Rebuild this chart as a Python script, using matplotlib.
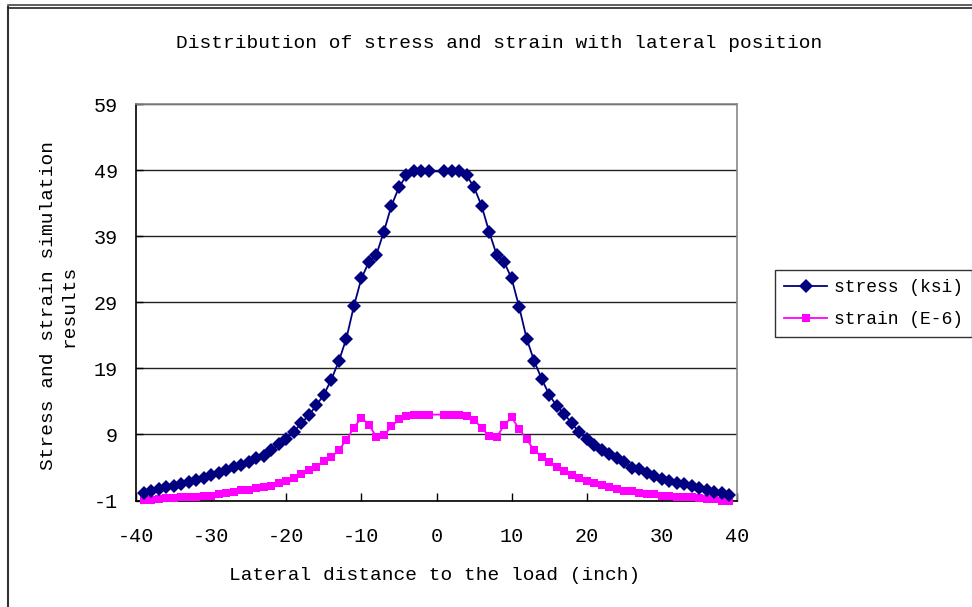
import matplotlib
matplotlib.use("Agg")
import matplotlib.pyplot as plt
from matplotlib.lines import Line2D

# Lateral positions (inch)
x_left = list(range(-39, 0))
x_right = list(range(1, 40))

stress_left = [0.18, 0.44, 0.75, 1.0, 1.2, 1.5, 1.8, 2.1, 2.35, 2.8,
               3.1, 3.6, 4.0, 4.4, 4.9, 5.4, 5.8, 6.6, 7.5, 8.3,
               9.4, 10.7, 11.9, 13.4, 15.0, 17.3, 20.1, 23.5, 28.4, 32.6,
               35.1, 36.2, 39.7, 43.6, 46.4, 48.2, 48.8, 48.8, 48.8]
stress_right = [48.8, 48.8, 48.8, 48.2, 46.4, 43.6, 39.7, 36.2, 35.1, 32.6,
                28.3, 23.5, 20.1, 17.4, 15.0, 13.3, 12.1, 10.7, 9.3, 8.3,
                7.4, 6.7, 6.0, 5.4, 4.8, 3.9, 3.8, 3.2, 2.7, 2.2,
                1.95, 1.7, 1.45, 1.2, 0.9, 0.6, 0.33, 0.09, -0.16]

strain_left = [-0.92, -0.92, -0.77, -0.67, -0.67, -0.52, -0.42, -0.42, -0.27, -0.27,
               -0.02, 0.09, 0.33, 0.59, 0.59, 0.84, 1.1, 1.25, 1.6, 1.95,
               2.45, 2.95, 3.6, 4.1, 5.0, 5.6, 6.6, 8.2, 10.0, 11.5,
               10.5, 8.6, 8.85, 10.2, 11.3, 11.85, 12.0, 12.0, 12.0]
strain_right = [12.0, 12.0, 12.0, 11.8, 11.2, 10.0, 8.8, 8.55, 10.4, 11.6,
                9.8, 8.25, 6.6, 5.6, 4.9, 4.0, 3.5, 2.9, 2.45, 1.95,
                1.6, 1.35, 1.0, 0.7, 0.5, 0.5, 0.2, 0.03, -0.02, -0.27,
                -0.27, -0.52, -0.52, -0.4, -0.62, -0.72, -0.72, -1.1, -1.1]

x_ticks = [-40, -30, -20, -10, 0, 10, 20, 30, 40]
y_ticks = [-1, 9, 19, 29, 39, 49, 59]

title = "Distribution of stress and strain with lateral position"
x_label = "Lateral distance to the load (inch)"
y_label = "Stress and strain simulation\nresults"
labels = ["stress (ksi)", "strain (E-6)"]

STRESS_C = "#000080"
STRAIN_C = "#FF00FF"
FONT = ["Liberation Mono", "DejaVu Sans Mono"]
FS = 14.0
TICK_FS = 14.5
LEG_FS = 13.0

plt.rcParams["font.family"] = FONT

W, H = 972, 607
fig = plt.figure(figsize=(W / 100, H / 100), dpi=100)

# chart-area border (left and doubled top edge)
fig.add_artist(Line2D([8 / W, 8 / W], [0, 1 - 7 / H], color="#333333", lw=1.5,
                      transform=fig.transFigure))
fig.add_artist(Line2D([8 / W, 1], [1 - 5 / H, 1 - 5 / H], color="#444444", lw=1.2,
                      transform=fig.transFigure))
fig.add_artist(Line2D([8 / W, 1], [1 - 8 / H, 1 - 8 / H], color="#222222", lw=1.2,
                      transform=fig.transFigure))

left, right, top, bottom = 136, 737, 104, 500.5
ax = fig.add_axes([left / W, 1 - bottom / H, (right - left) / W, (bottom - top) / H])

xs = x_left + x_right
ax.plot(xs, stress_left + stress_right, color=STRESS_C, lw=1.3, marker="D",
        markersize=7.5, markeredgewidth=0, zorder=4, clip_on=False)
ax.plot(xs, strain_left + strain_right, color=STRAIN_C, lw=1.3, marker="s",
        markersize=5.8, markeredgewidth=0, zorder=3, clip_on=False)

ax.set_xlim(-40, 40)
ax.set_ylim(-1, 59)
ax.set_xticks(x_ticks)
ax.set_yticks(y_ticks)
ax.set_xticklabels([str(v) for v in x_ticks])
ax.set_yticklabels([str(v) for v in y_ticks])
ax.tick_params(axis="x", direction="in", length=6, width=1, pad=19, labelsize=TICK_FS)
ax.tick_params(axis="y", direction="in", length=5, width=1, pad=13, labelsize=TICK_FS)
ax.yaxis.grid(True, color="#222222", lw=1)
ax.set_axisbelow(True)

for s in ("left", "bottom"):
    ax.spines[s].set_color("black")
    ax.spines[s].set_linewidth(1.2)
for s in ("top", "right"):
    ax.spines[s].set_color("#888888")
    ax.spines[s].set_linewidth(1.2)

fig.text(499 / W, 1 - 43 / H, title, ha="center", va="center", fontsize=FS)
fig.text(435 / W, 1 - 575 / H, x_label, ha="center", va="center", fontsize=FS)
fig.text(59 / W, 1 - 306 / H, y_label, ha="center", va="center", rotation=90,
         multialignment="center", fontsize=FS, linespacing=1.25)

handles = [Line2D([], [], color=STRESS_C, lw=1.3, marker="D", markersize=7.5,
                  markeredgewidth=0),
           Line2D([], [], color=STRAIN_C, lw=1.3, marker="s", markersize=5.8,
                  markeredgewidth=0)]
leg = fig.legend(handles, labels, loc="upper left",
                 bbox_to_anchor=(775 / W, 1 - 270 / H), fontsize=LEG_FS,
                 frameon=True, fancybox=False, edgecolor="black",
                 handlelength=2.4, handletextpad=0.35, borderpad=0.5,
                 labelspacing=0.85, borderaxespad=0)
leg.get_frame().set_linewidth(1.0)

fig.savefig("out.png", dpi=100)
